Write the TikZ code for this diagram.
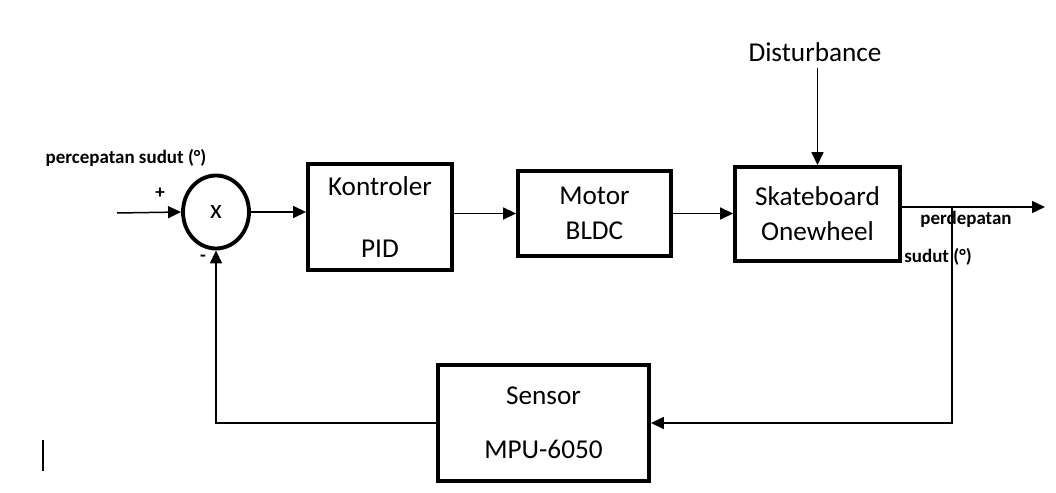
\documentclass[tikz,border=0pt]{standalone}
\usepackage{fontspec}
\setmainfont{Carlito}
\usetikzlibrary{arrows.meta,shapes.geometric}

\tikzset{
  blok/.style={draw,line width=2.2pt,align=center,font=\fontsize{15.5}{18}\selectfont,inner sep=0pt},
  pfeil/.style={line width=0.85pt,-{Triangle[length=2.6mm,width=2.4mm]}},
  lbl/.style={font=\bfseries\fontsize{10.8}{12}\selectfont,inner sep=0pt}
}

\begin{document}
\begin{tikzpicture}[x=0.02cm,y=-0.02cm]
	\useasboundingbox (0,0) rectangle (1056,493);
	% summing junction
	\node[draw,ellipse,line width=2.2pt,minimum width=1.32cm,minimum height=1.46cm,inner sep=0pt,font=\fontsize{15.5}{18}\selectfont] (sum) at (216,212) {x};
	\coordinate (masuk) at (117,213);
	\node[lbl] (judul) at (126,158) {percepatan sudut (°)};
	\node[lbl] (plus) at (160,193) {+};
	\node[lbl] (minus) at (203,258) {-};
	% blocks
	\node[blok,minimum width=2.88cm,minimum height=2.12cm] (pid) at (380,217) {Kontroler\\[17pt]PID};
	\node[blok,minimum width=3.06cm,minimum height=1.70cm] (motor) at (594.5,213.5) {Motor\\[2pt]BLDC};
	\node[blok,minimum width=3.30cm,minimum height=1.88cm] (skate) at (817.5,214) {Skateboard\\[2pt]Onewheel};
	\node[blok,minimum width=4.22cm,minimum height=2.32cm] (sensor) at (543.5,423) {Sensor\\[13pt]MPU-6050};
	\node[font=\fontsize{15.5}{18}\selectfont,inner sep=0pt] (dist) at (815,52) {Disturbance};
	% output
	\coordinate (keluar) at (1045,207);
	\coordinate (cabang) at (952,207);
	\node[lbl] (out1) at (966,219) {perdepatan};
	\node[lbl] (out2) at (938,257) {sudut (°)};
	% connectors
	\draw[pfeil] (masuk) -- (sum.west);
	\draw[pfeil] (sum.east) -- (pid.west |- sum.east);
	\draw[pfeil] (pid.east |- motor.west) -- (motor.west);
	\draw[pfeil] (motor.east) -- (skate.west |- motor.east);
	\draw[pfeil] (skate.north |- dist.south) ++(0,6) -- (skate.north);
	\draw[pfeil] (skate.east |- keluar) -- (keluar);
	\draw[pfeil] (cabang) |- (sensor.east);
	\draw[pfeil] (sensor.west) -| (sum.south);
	% cursor mark
	\draw[line width=1pt] (43,440) -- (43,471);
\end{tikzpicture}
\end{document}
